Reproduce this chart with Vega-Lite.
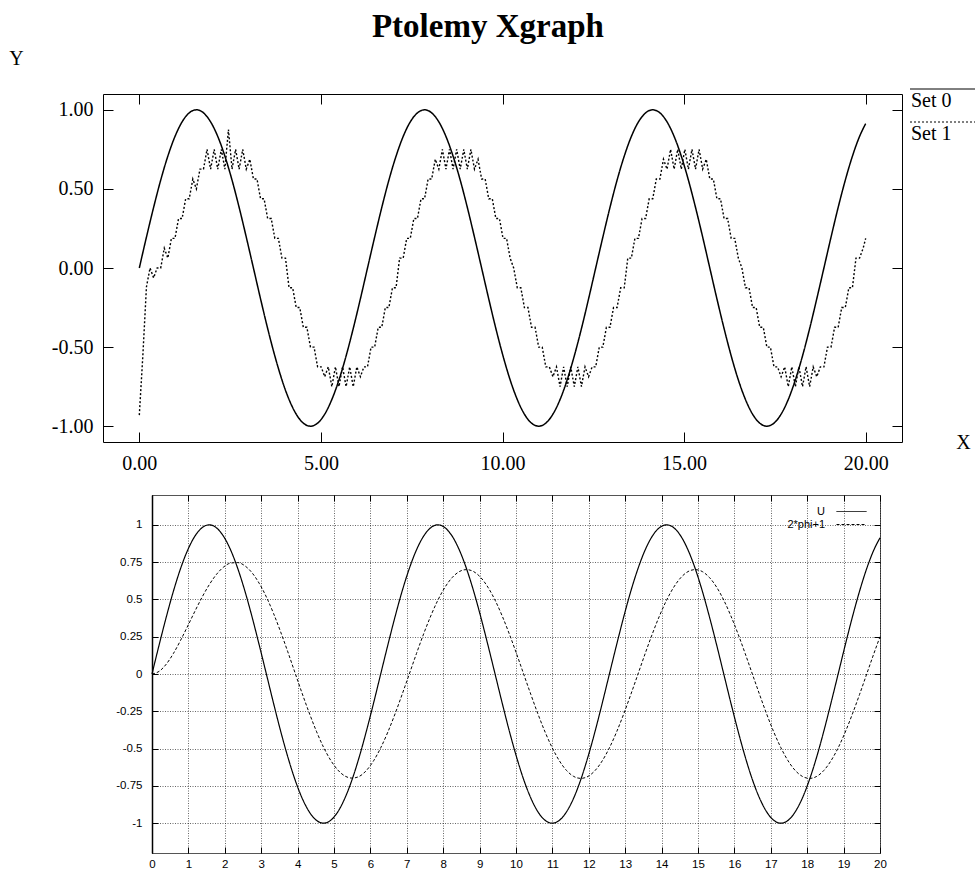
{
  "$schema": "https://vega.github.io/schema/vega-lite/v6.json",
  "background": "white",
  "padding": {"left": 8, "top": 10, "right": 0, "bottom": 0},
  "title": {"text": "Ptolemy Xgraph", "font": "Liberation Serif", "fontSize": 33, "fontWeight": "bold", "color": "black", "anchor": "middle", "offset": 4, "dx": -5},
  "config": {
    "view": {"stroke": null},
    "axis": {"labelColor": "black", "tickColor": "black", "tickWidth": 1, "labelFlush": false, "labelOverlap": false, "labelBound": false, "domain": false, "grid": false}
  },
  "resolve": {"scale": {"strokeDash": "independent"}, "legend": {"strokeDash": "independent"}},
  "spacing": 20,
  "datasets": {
    "sine": [
      {"x":0,"y":0},{"x":0.196,"y":0.1951},{"x":0.393,"y":0.3827},{"x":0.589,"y":0.5556},{"x":0.785,"y":0.7071},{"x":0.982,"y":0.8315},{"x":1.178,"y":0.9239},{"x":1.374,"y":0.9808},{"x":1.571,"y":1},{"x":1.767,"y":0.9808},{"x":1.963,"y":0.9239},{"x":2.16,"y":0.8315},{"x":2.356,"y":0.7071},{"x":2.553,"y":0.5556},{"x":2.749,"y":0.3827},{"x":2.945,"y":0.1951},{"x":3.142,"y":0},{"x":3.338,"y":-0.1951},{"x":3.534,"y":-0.3827},{"x":3.731,"y":-0.5556},{"x":3.927,"y":-0.7071},{"x":4.123,"y":-0.8315},{"x":4.32,"y":-0.9239},{"x":4.516,"y":-0.9808},{"x":4.712,"y":-1},{"x":4.909,"y":-0.9808},{"x":5.105,"y":-0.9239},{"x":5.301,"y":-0.8315},{"x":5.498,"y":-0.7071},{"x":5.694,"y":-0.5556},{"x":5.89,"y":-0.3827},{"x":6.087,"y":-0.1951},{"x":6.283,"y":0},{"x":6.48,"y":0.1951},{"x":6.676,"y":0.3827},{"x":6.872,"y":0.5556},{"x":7.069,"y":0.7071},{"x":7.265,"y":0.8315},{"x":7.461,"y":0.9239},{"x":7.658,"y":0.9808},{"x":7.854,"y":1},{"x":8.05,"y":0.9808},{"x":8.247,"y":0.9239},{"x":8.443,"y":0.8315},{"x":8.639,"y":0.7071},{"x":8.836,"y":0.5556},{"x":9.032,"y":0.3827},{"x":9.228,"y":0.1951},{"x":9.425,"y":0},{"x":9.621,"y":-0.1951},{"x":9.817,"y":-0.3827},{"x":10.014,"y":-0.5556},{"x":10.21,"y":-0.7071},{"x":10.407,"y":-0.8315},{"x":10.603,"y":-0.9239},{"x":10.799,"y":-0.9808},{"x":10.996,"y":-1},{"x":11.192,"y":-0.9808},{"x":11.388,"y":-0.9239},{"x":11.585,"y":-0.8315},{"x":11.781,"y":-0.7071},{"x":11.977,"y":-0.5556},{"x":12.174,"y":-0.3827},{"x":12.37,"y":-0.1951},{"x":12.566,"y":0},{"x":12.763,"y":0.1951},{"x":12.959,"y":0.3827},{"x":13.155,"y":0.5556},{"x":13.352,"y":0.7071},{"x":13.548,"y":0.8315},{"x":13.744,"y":0.9239},{"x":13.941,"y":0.9808},{"x":14.137,"y":1},{"x":14.334,"y":0.9808},{"x":14.53,"y":0.9239},{"x":14.726,"y":0.8315},{"x":14.923,"y":0.7071},{"x":15.119,"y":0.5556},{"x":15.315,"y":0.3827},{"x":15.512,"y":0.1951},{"x":15.708,"y":0},{"x":15.904,"y":-0.1951},{"x":16.101,"y":-0.3827},{"x":16.297,"y":-0.5556},{"x":16.493,"y":-0.7071},{"x":16.69,"y":-0.8315},{"x":16.886,"y":-0.9239},{"x":17.082,"y":-0.9808},{"x":17.279,"y":-1},{"x":17.475,"y":-0.9808},{"x":17.671,"y":-0.9239},{"x":17.868,"y":-0.8315},{"x":18.064,"y":-0.7071},{"x":18.261,"y":-0.5556},{"x":18.457,"y":-0.3827},{"x":18.653,"y":-0.1951},{"x":18.85,"y":0},{"x":19.046,"y":0.1951},{"x":19.242,"y":0.3827},{"x":19.439,"y":0.5556},{"x":19.635,"y":0.7071},{"x":19.831,"y":0.8315},{"x":20,"y":0.9129}
    ],
    "phi": [
      {"x":0,"y":0},{"x":0.196,"y":0.0178},{"x":0.393,"y":0.0663},{"x":0.589,"y":0.138},{"x":0.785,"y":0.2257},{"x":0.982,"y":0.322},{"x":1.178,"y":0.4203},{"x":1.374,"y":0.5141},{"x":1.571,"y":0.5979},{"x":1.767,"y":0.6665},{"x":1.963,"y":0.7162},{"x":2.16,"y":0.7437},{"x":2.356,"y":0.7469},{"x":2.553,"y":0.7251},{"x":2.749,"y":0.6784},{"x":2.945,"y":0.608},{"x":3.142,"y":0.5164},{"x":3.338,"y":0.4065},{"x":3.534,"y":0.2823},{"x":3.731,"y":0.1485},{"x":3.927,"y":0.0097},{"x":4.123,"y":-0.1286},{"x":4.32,"y":-0.2613},{"x":4.516,"y":-0.3835},{"x":4.712,"y":-0.4906},{"x":4.909,"y":-0.5784},{"x":5.105,"y":-0.6437},{"x":5.301,"y":-0.6842},{"x":5.498,"y":-0.698},{"x":5.694,"y":-0.6866},{"x":5.89,"y":-0.6467},{"x":6.087,"y":-0.582},{"x":6.283,"y":-0.495},{"x":6.48,"y":-0.3889},{"x":6.676,"y":-0.2679},{"x":6.872,"y":-0.1366},{"x":7.069,"y":0},{"x":7.265,"y":0.1366},{"x":7.461,"y":0.2679},{"x":7.658,"y":0.3889},{"x":7.854,"y":0.495},{"x":8.05,"y":0.582},{"x":8.247,"y":0.6467},{"x":8.443,"y":0.6866},{"x":8.639,"y":0.7},{"x":8.836,"y":0.6866},{"x":9.032,"y":0.6467},{"x":9.228,"y":0.582},{"x":9.425,"y":0.495},{"x":9.621,"y":0.3889},{"x":9.817,"y":0.2679},{"x":10.014,"y":0.1366},{"x":10.21,"y":0},{"x":10.407,"y":-0.1366},{"x":10.603,"y":-0.2679},{"x":10.799,"y":-0.3889},{"x":10.996,"y":-0.495},{"x":11.192,"y":-0.582},{"x":11.388,"y":-0.6467},{"x":11.585,"y":-0.6866},{"x":11.781,"y":-0.7},{"x":11.977,"y":-0.6866},{"x":12.174,"y":-0.6467},{"x":12.37,"y":-0.582},{"x":12.566,"y":-0.495},{"x":12.763,"y":-0.3889},{"x":12.959,"y":-0.2679},{"x":13.155,"y":-0.1366},{"x":13.352,"y":0},{"x":13.548,"y":0.1366},{"x":13.744,"y":0.2679},{"x":13.941,"y":0.3889},{"x":14.137,"y":0.495},{"x":14.334,"y":0.582},{"x":14.53,"y":0.6467},{"x":14.726,"y":0.6866},{"x":14.923,"y":0.7},{"x":15.119,"y":0.6866},{"x":15.315,"y":0.6467},{"x":15.512,"y":0.582},{"x":15.708,"y":0.495},{"x":15.904,"y":0.3889},{"x":16.101,"y":0.2679},{"x":16.297,"y":0.1366},{"x":16.493,"y":0},{"x":16.69,"y":-0.1366},{"x":16.886,"y":-0.2679},{"x":17.082,"y":-0.3889},{"x":17.279,"y":-0.495},{"x":17.475,"y":-0.582},{"x":17.671,"y":-0.6467},{"x":17.868,"y":-0.6866},{"x":18.064,"y":-0.7},{"x":18.261,"y":-0.6866},{"x":18.457,"y":-0.6467},{"x":18.653,"y":-0.582},{"x":18.85,"y":-0.495},{"x":19.046,"y":-0.3889},{"x":19.242,"y":-0.2679},{"x":19.439,"y":-0.1366},{"x":19.635,"y":0},{"x":19.831,"y":0.1366},{"x":20,"y":0.2498}
    ],
    "set1": [
      {"x":0,"y":-0.93},{"x":0.098,"y":-0.55},{"x":0.196,"y":-0.12},{"x":0.295,"y":0},{"x":0.393,"y":-0.0625},{"x":0.491,"y":0},{"x":0.589,"y":0},{"x":0.687,"y":0.125},{"x":0.785,"y":0.0625},{"x":0.884,"y":0.1875},{"x":0.982,"y":0.1875},{"x":1.08,"y":0.3125},{"x":1.178,"y":0.3125},{"x":1.276,"y":0.4375},{"x":1.374,"y":0.4375},{"x":1.473,"y":0.5625},{"x":1.571,"y":0.5},{"x":1.669,"y":0.625},{"x":1.767,"y":0.625},{"x":1.865,"y":0.75},{"x":1.963,"y":0.625},{"x":2.062,"y":0.75},{"x":2.16,"y":0.625},{"x":2.258,"y":0.75},{"x":2.356,"y":0.625},{"x":2.454,"y":0.875},{"x":2.553,"y":0.625},{"x":2.651,"y":0.75},{"x":2.749,"y":0.625},{"x":2.847,"y":0.75},{"x":2.945,"y":0.625},{"x":3.043,"y":0.6875},{"x":3.142,"y":0.5625},{"x":3.24,"y":0.5625},{"x":3.338,"y":0.4375},{"x":3.436,"y":0.4375},{"x":3.534,"y":0.3125},{"x":3.632,"y":0.3125},{"x":3.731,"y":0.1875},{"x":3.829,"y":0.1875},{"x":3.927,"y":0.0625},{"x":4.025,"y":0.0625},{"x":4.123,"y":-0.125},{"x":4.222,"y":-0.125},{"x":4.32,"y":-0.25},{"x":4.418,"y":-0.25},{"x":4.516,"y":-0.375},{"x":4.614,"y":-0.375},{"x":4.712,"y":-0.5},{"x":4.811,"y":-0.5},{"x":4.909,"y":-0.625},{"x":5.007,"y":-0.625},{"x":5.105,"y":-0.6875},{"x":5.203,"y":-0.625},{"x":5.301,"y":-0.75},{"x":5.4,"y":-0.625},{"x":5.498,"y":-0.75},{"x":5.596,"y":-0.625},{"x":5.694,"y":-0.75},{"x":5.792,"y":-0.625},{"x":5.89,"y":-0.75},{"x":5.989,"y":-0.625},{"x":6.087,"y":-0.6875},{"x":6.185,"y":-0.625},{"x":6.283,"y":-0.625},{"x":6.381,"y":-0.5},{"x":6.48,"y":-0.5},{"x":6.578,"y":-0.375},{"x":6.676,"y":-0.375},{"x":6.774,"y":-0.25},{"x":6.872,"y":-0.25},{"x":6.97,"y":-0.125},{"x":7.069,"y":-0.125},{"x":7.167,"y":0.0625},{"x":7.265,"y":0.0625},{"x":7.363,"y":0.1875},{"x":7.461,"y":0.1875},{"x":7.559,"y":0.3125},{"x":7.658,"y":0.3125},{"x":7.756,"y":0.4375},{"x":7.854,"y":0.4375},{"x":7.952,"y":0.5625},{"x":8.05,"y":0.5625},{"x":8.149,"y":0.6875},{"x":8.247,"y":0.625},{"x":8.345,"y":0.75},{"x":8.443,"y":0.625},{"x":8.541,"y":0.75},{"x":8.639,"y":0.625},{"x":8.738,"y":0.75},{"x":8.836,"y":0.625},{"x":8.934,"y":0.75},{"x":9.032,"y":0.625},{"x":9.13,"y":0.75},{"x":9.228,"y":0.625},{"x":9.327,"y":0.6875},{"x":9.425,"y":0.5625},{"x":9.523,"y":0.5625},{"x":9.621,"y":0.4375},{"x":9.719,"y":0.4375},{"x":9.817,"y":0.3125},{"x":9.916,"y":0.3125},{"x":10.014,"y":0.1875},{"x":10.112,"y":0.1875},{"x":10.21,"y":0.0625},{"x":10.308,"y":0},{"x":10.407,"y":-0.125},{"x":10.505,"y":-0.125},{"x":10.603,"y":-0.25},{"x":10.701,"y":-0.25},{"x":10.799,"y":-0.375},{"x":10.897,"y":-0.375},{"x":10.996,"y":-0.5},{"x":11.094,"y":-0.5},{"x":11.192,"y":-0.625},{"x":11.29,"y":-0.625},{"x":11.388,"y":-0.6875},{"x":11.486,"y":-0.625},{"x":11.585,"y":-0.75},{"x":11.683,"y":-0.625},{"x":11.781,"y":-0.75},{"x":11.879,"y":-0.625},{"x":11.977,"y":-0.75},{"x":12.076,"y":-0.625},{"x":12.174,"y":-0.75},{"x":12.272,"y":-0.625},{"x":12.37,"y":-0.6875},{"x":12.468,"y":-0.625},{"x":12.566,"y":-0.625},{"x":12.665,"y":-0.5},{"x":12.763,"y":-0.5},{"x":12.861,"y":-0.375},{"x":12.959,"y":-0.375},{"x":13.057,"y":-0.25},{"x":13.155,"y":-0.25},{"x":13.254,"y":-0.125},{"x":13.352,"y":-0.125},{"x":13.45,"y":0.0625},{"x":13.548,"y":0.0625},{"x":13.646,"y":0.1875},{"x":13.744,"y":0.1875},{"x":13.843,"y":0.3125},{"x":13.941,"y":0.3125},{"x":14.039,"y":0.4375},{"x":14.137,"y":0.4375},{"x":14.235,"y":0.5625},{"x":14.334,"y":0.5625},{"x":14.432,"y":0.6875},{"x":14.53,"y":0.625},{"x":14.628,"y":0.75},{"x":14.726,"y":0.625},{"x":14.824,"y":0.75},{"x":14.923,"y":0.625},{"x":15.021,"y":0.75},{"x":15.119,"y":0.625},{"x":15.217,"y":0.75},{"x":15.315,"y":0.625},{"x":15.413,"y":0.75},{"x":15.512,"y":0.625},{"x":15.61,"y":0.6875},{"x":15.708,"y":0.5625},{"x":15.806,"y":0.5625},{"x":15.904,"y":0.4375},{"x":16.002,"y":0.4375},{"x":16.101,"y":0.3125},{"x":16.199,"y":0.3125},{"x":16.297,"y":0.1875},{"x":16.395,"y":0.1875},{"x":16.493,"y":0.0625},{"x":16.592,"y":0},{"x":16.69,"y":-0.125},{"x":16.788,"y":-0.125},{"x":16.886,"y":-0.25},{"x":16.984,"y":-0.25},{"x":17.082,"y":-0.375},{"x":17.181,"y":-0.375},{"x":17.279,"y":-0.5},{"x":17.377,"y":-0.5},{"x":17.475,"y":-0.625},{"x":17.573,"y":-0.625},{"x":17.671,"y":-0.6875},{"x":17.77,"y":-0.625},{"x":17.868,"y":-0.75},{"x":17.966,"y":-0.625},{"x":18.064,"y":-0.75},{"x":18.162,"y":-0.625},{"x":18.261,"y":-0.75},{"x":18.359,"y":-0.625},{"x":18.457,"y":-0.75},{"x":18.555,"y":-0.625},{"x":18.653,"y":-0.6875},{"x":18.751,"y":-0.625},{"x":18.85,"y":-0.625},{"x":18.948,"y":-0.5},{"x":19.046,"y":-0.5},{"x":19.144,"y":-0.375},{"x":19.242,"y":-0.375},{"x":19.34,"y":-0.25},{"x":19.439,"y":-0.25},{"x":19.537,"y":-0.125},{"x":19.635,"y":-0.125},{"x":19.733,"y":0.0625},{"x":19.831,"y":0.0625},{"x":19.93,"y":0.125},{"x":20,"y":0.1875}
    ]
  },
  "vconcat": [
    {
      "width": 799,
      "height": 348,
      "view": {"stroke": "black", "strokeWidth": 1},
      "resolve": {"axis": {"x": "independent", "y": "independent"}},
      "layer": [
        {
          "data": {"name": "sine"},
          "mark": {"type": "line", "color": "black", "strokeWidth": 1.5, "interpolate": "monotone"},
          "encoding": {
            "x": {"field": "x", "type": "quantitative", "scale": {"domain": [-1, 21], "nice": false, "zero": false},
              "axis": {"orient": "bottom", "values": [0, 5, 10, 15, 20], "format": ".2f", "tickSize": -10, "labelPadding": 21, "labelFont": "Liberation Serif", "labelFontSize": 20,
                "title": "X", "titleFont": "Liberation Serif", "titleFontSize": 20, "titleFontWeight": "normal", "titleColor": "black", "titleAngle": 0, "titleX": 860, "titleY": 0, "titleAlign": "center", "titleBaseline": "middle"}},
            "y": {"field": "y", "type": "quantitative", "scale": {"domain": [-1.1, 1.1], "nice": false, "zero": false},
              "axis": {"orient": "left", "values": [-1, -0.5, 0, 0.5, 1], "format": ".2f", "labelExpr": "replace(datum.label, '−', '-')", "tickSize": -10, "labelPadding": 20, "labelFont": "Liberation Serif", "labelFontSize": 20,
                "title": "Y", "titleFont": "Liberation Serif", "titleFontSize": 20, "titleFontWeight": "normal", "titleColor": "black", "titleAngle": 0, "titleX": -87, "titleY": -36, "titleAlign": "center", "titleBaseline": "middle"}},
            "strokeDash": {"datum": "Set 0", "type": "nominal",
              "scale": {"domain": ["Set 0", "Set 1"], "range": [[1, 0], [2, 2]]},
              "legend": {"orient": "none", "legendX": 788, "legendY": -3, "title": null, "padding": 0, "symbolType": "M 1.8 -2.4 L 14.8 -2.4", "symbolSize": 100, "symbolStrokeColor": "black", "symbolStrokeWidth": 1, "symbolFillColor": "transparent", "labelOffset": 0, "labelFont": "Liberation Serif", "labelFontSize": 20, "labelColor": "black", "rowPadding": 9}}
          }
        },
        {
          "data": {"name": "set1"},
          "mark": {"type": "line", "color": "black", "strokeWidth": 1.4},
          "encoding": {
            "x": {"field": "x", "type": "quantitative",
              "axis": {"orient": "top", "values": [0, 5, 10, 15, 20], "labels": false, "tickSize": -10, "title": null}},
            "y": {"field": "y", "type": "quantitative",
              "axis": {"orient": "right", "values": [-1, -0.5, 0, 0.5, 1], "labels": false, "tickSize": -10, "title": null}},
            "strokeDash": {"datum": "Set 1", "type": "nominal"}
          }
        }
      ]
    },
    {
      "spacing": 0,
      "hconcat": [
        {"width": 11, "height": 358, "data": {"values": []}, "mark": "point", "view": {"stroke": "transparent"}},
        {
          "width": 728,
          "height": 358,
          "view": {"stroke": "#555555", "strokeWidth": 1},
          "resolve": {"axis": {"x": "independent", "y": "independent"}},
          "layer": [
            {
              "data": {"name": "sine"},
              "mark": {"type": "line", "color": "black", "strokeWidth": 1.2, "interpolate": "monotone"},
              "encoding": {
                "x": {"field": "x", "type": "quantitative", "scale": {"domain": [0, 20], "nice": false, "zero": false},
                  "axis": {"orient": "bottom", "values": [0,1,2,3,4,5,6,7,8,9,10,11,12,13,14,15,16,17,18,19,20], "format": "d", "tickSize": -6, "labelPadding": 11, "labelFont": "Liberation Sans", "labelFontSize": 11.5,
                    "grid": true, "gridDash": [1, 1.5], "gridColor": "#000000", "gridOpacity": 0.75, "gridWidth": 0.8, "title": null}},
                "y": {"field": "y", "type": "quantitative", "scale": {"domain": [-1.2, 1.2], "nice": false, "zero": false},
                  "axis": {"orient": "left", "values": [-1, -0.75, -0.5, -0.25, 0, 0.25, 0.5, 0.75, 1], "format": "~g", "labelExpr": "replace(datum.label, '−', '-')", "tickSize": -6, "labelPadding": 16, "labelFont": "Liberation Sans", "labelFontSize": 11.5,
                    "grid": true, "gridDash": [1, 1.5], "gridColor": "#000000", "gridOpacity": 0.75, "gridWidth": 0.8, "domain": true, "domainColor": "black", "domainWidth": 1.5, "title": null}},
                "strokeDash": {"datum": "U", "type": "nominal",
                  "scale": {"domain": ["U", "2*phi+1"], "range": [[1, 0], [3, 2]]},
                  "legend": {"orient": "none", "legendX": 711, "legendY": 11, "title": null, "padding": 0, "symbolType": "M 8.5 0 L 23.5 0", "symbolSize": 16, "symbolStrokeColor": "black", "symbolStrokeWidth": 1, "symbolFillColor": "transparent", "labelAlign": "right", "labelOffset": 0, "labelFont": "Liberation Sans", "labelFontSize": 11, "labelColor": "black", "rowPadding": 1}}
              }
            },
            {
              "data": {"name": "phi"},
              "mark": {"type": "line", "color": "black", "strokeWidth": 1, "interpolate": "monotone"},
              "encoding": {
                "x": {"field": "x", "type": "quantitative",
                  "axis": {"orient": "top", "values": [0,1,2,3,4,5,6,7,8,9,10,11,12,13,14,15,16,17,18,19,20], "labels": false, "tickSize": -6, "title": null}},
                "y": {"field": "y", "type": "quantitative",
                  "axis": {"orient": "right", "values": [-1, -0.75, -0.5, -0.25, 0, 0.25, 0.5, 0.75, 1], "labels": false, "tickSize": -6, "title": null}},
                "strokeDash": {"datum": "2*phi+1", "type": "nominal"}
              }
            }
          ]
        }
      ]
    }
  ]
}
